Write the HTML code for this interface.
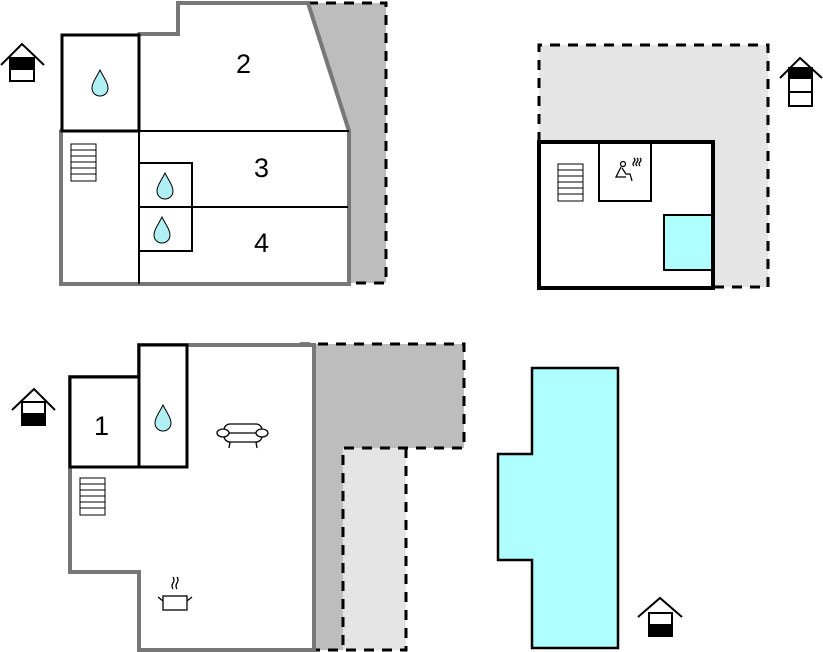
<!DOCTYPE html>
<html><head><meta charset="utf-8"><style>
html,body{margin:0;padding:0;background:#fff;}
svg{display:block;}
text{font-family:"Liberation Sans",sans-serif;font-size:27px;fill:#000;}
</style></head><body>
<svg width="823" height="652" viewBox="0 0 823 652" xmlns="http://www.w3.org/2000/svg">
<defs>
<g id="drop"><path d="M0,-13 C4,-5 8,0 8,5 C8,10 4,13 0,13 C-4,13 -8,10 -8,5 C-8,0 -4,-5 0,-13Z" fill="#b0f0f4" stroke="#000" stroke-width="1"/></g>
<g id="stairs" fill="#fff" stroke="#000" stroke-width="1"><rect x="0" y="0" width="25" height="37"/><line x1="0" y1="6" x2="25" y2="6"/><line x1="0" y1="12" x2="25" y2="12"/><line x1="0" y1="18" x2="25" y2="18"/><line x1="0" y1="24" x2="25" y2="24"/><line x1="0" y1="30" x2="25" y2="30"/></g>
</defs>

<!-- TOP LEFT -->
<polygon points="308,3 386,3 386,283 349,283 349,131" fill="#bdbdbd"/>
<path d="M290,3 H386 V283 H335" fill="none" stroke="#000" stroke-width="3" stroke-dasharray="10,8"/>
<polygon points="61,131 61,284 349,284 349,131 308,3 178,3 178,34 139,34" fill="#fff" stroke="#777" stroke-width="4"/>
<rect x="62" y="35" width="77" height="96" fill="#fff" stroke="#000" stroke-width="3"/>
<g stroke="#000" stroke-width="2" fill="none">
<line x1="61" y1="131" x2="349" y2="131"/>
<line x1="139" y1="131" x2="139" y2="284"/>
<rect x="139" y="163" width="53" height="88"/>
<line x1="139" y1="207" x2="348" y2="207"/>
</g>
<use href="#stairs" x="71" y="144"/>
<use href="#drop" x="100" y="83"/>
<use href="#drop" x="165" y="186"/>
<use href="#drop" x="162" y="230"/>
<text x="236" y="73">2</text>
<text x="254" y="177">3</text>
<text x="254" y="252">4</text>
<g stroke="#000" stroke-width="2" fill="#fff">
<polyline points="1,65 22,44 44,65" fill="none"/>
<rect x="10" y="58" width="24" height="23"/>
<rect x="10" y="58" width="24" height="11" fill="#000"/>
</g>

<!-- TOP RIGHT -->
<rect x="539" y="45" width="229" height="242" fill="#e5e5e5"/>
<path d="M539,142 V45 H768 V287 H713" fill="none" stroke="#000" stroke-width="3" stroke-dasharray="10,8"/>
<rect x="539" y="142" width="174" height="146" fill="#fff" stroke="#000" stroke-width="4"/>
<rect x="599" y="143" width="52" height="58" fill="#fff" stroke="#000" stroke-width="2"/>
<rect x="664" y="215" width="48" height="55" fill="#b0ffff" stroke="#000" stroke-width="2"/>
<use href="#stairs" x="558" y="164"/>
<g stroke="#000" stroke-width="1.3" fill="none">
<circle cx="623" cy="164" r="2.5"/>
<path d="M621,167 L616,177 H626 M622,168 L626,174 H630 L632,181"/>
<path d="M634,158 q2,2 0,4 q-2,2 0,4 M637,158 q2,2 0,4 q-2,2 0,4 M640,158 q2,2 0,4 q-2,2 0,4"/>
</g>
<g stroke="#000" stroke-width="2" fill="#fff">
<polyline points="780,78 800,58 822,78" fill="none"/>
<rect x="789" y="68" width="23" height="38"/>
<rect x="789" y="68" width="23" height="10" fill="#000"/>
<line x1="789" y1="92" x2="812" y2="92"/>
</g>

<!-- BOTTOM LEFT -->
<polygon points="313,344 464,344 464,448 343,448 343,650 313,650" fill="#bdbdbd"/>
<rect x="343" y="448" width="63" height="202" fill="#e5e5e5"/>
<path d="M300,344 H464 V448 H343 V650 M406,448 V650 H290" fill="none" stroke="#000" stroke-width="3" stroke-dasharray="10,8"/>
<polygon points="139,345 314,345 314,650 139,650 139,572 70,572 70,467 70,377 139,377" fill="#fff" stroke="#777" stroke-width="4"/>
<rect x="70" y="377" width="69" height="90" fill="#fff" stroke="#000" stroke-width="3"/>
<rect x="139" y="345" width="48" height="122" fill="#fff" stroke="#000" stroke-width="3"/>
<text x="94" y="435">1</text>
<use href="#drop" x="163" y="418"/>
<use href="#stairs" x="80" y="478"/>
<g stroke="#000" stroke-width="1.3" fill="#fff">
<rect x="224" y="424" width="38" height="18" rx="6"/>
<line x1="226" y1="433" x2="260" y2="433"/>
<ellipse cx="223" cy="433" rx="6" ry="4"/>
<ellipse cx="262" cy="433" rx="6" ry="4"/>
<line x1="230" y1="442" x2="229" y2="448"/><line x1="256" y1="442" x2="257" y2="448"/>
</g>
<g stroke="#000" stroke-width="1.3" fill="#fff">
<rect x="163" y="596" width="24" height="14"/>
<line x1="158" y1="597" x2="163" y2="601"/><line x1="192" y1="597" x2="187" y2="601"/>
<path d="M173,577 q2,3 0,6 q-2,3 0,6 M177,577 q2,3 0,6 q-2,3 0,6" fill="none"/>
</g>
<g stroke="#000" stroke-width="2" fill="#fff">
<polyline points="12,410 34,389 55,410" fill="none"/>
<rect x="22" y="402" width="23" height="23"/>
<rect x="22" y="414" width="23" height="11" fill="#000"/>
</g>

<!-- POOL -->
<polygon points="532,368 618,368 618,648 532,648 532,560 498,560 498,454 532,454" fill="#b0ffff" stroke="#000" stroke-width="2.5"/>
<g stroke="#000" stroke-width="2" fill="#fff">
<polyline points="638,617 660,598 682,617" fill="none"/>
<rect x="649" y="613" width="23" height="23"/>
<rect x="649" y="625" width="23" height="11" fill="#000"/>
</g>
</svg>
</body></html>
